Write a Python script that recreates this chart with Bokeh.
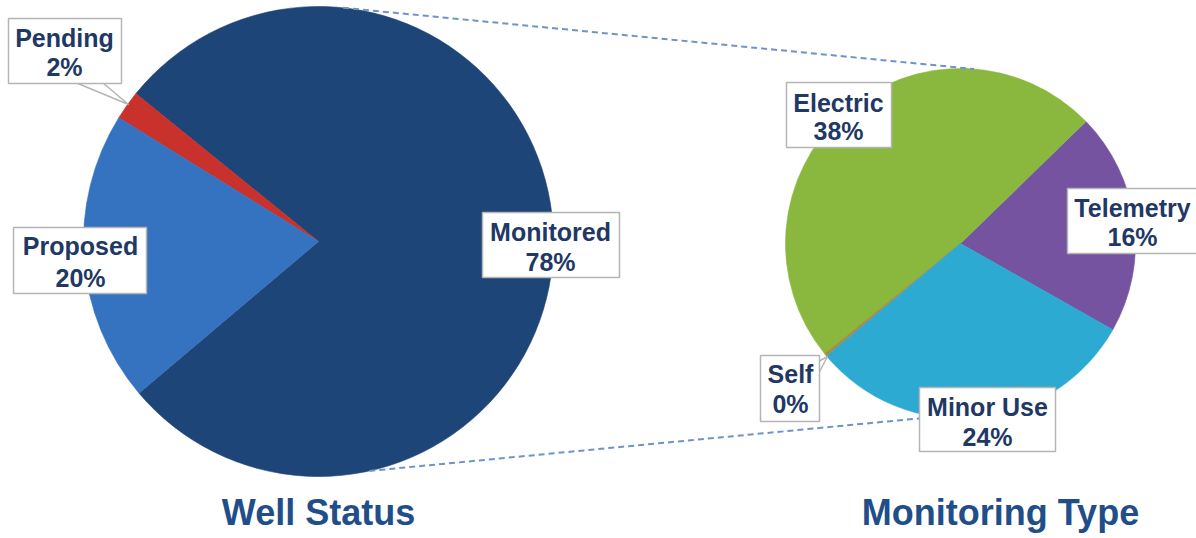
import numpy as np
from bokeh.plotting import figure
from bokeh.models import Range1d
from bokeh.core.properties import value
from bokeh.embed import file_html
from bokeh.resources import INLINE

# ---- data ----
status_labels = ["Monitored", "Pending", "Proposed"]
status_values = [78, 2, 20]
status_colors = ["#1e4577", "#c9312d", "#3572c0"]

type_labels = ["Telemetry", "Electric", "Self", "Minor Use"]
type_values = [16, 38, 0.2, 24]
type_colors = ["#7653a0", "#8ab83f", "#b08a3a", "#2daad2"]

W, H = 1196, 538
def Y(ry):  # reference pixel row -> data y
    return H - ry

p = figure(width=W, height=H, x_range=Range1d(0, W), y_range=Range1d(0, H),
           x_axis_type=None, y_axis_type=None, toolbar_location=None,
           output_backend="svg", min_border=0)
p.grid.visible = False
p.outline_line_color = None
p.background_fill_color = "white"
p.border_fill_color = "white"

def pie(cx, cy, r, vals, colors, start_deg):
    vals = np.array(vals, dtype=float)
    ang = vals / vals.sum() * 2 * np.pi
    ends = np.radians(start_deg) + np.cumsum(ang)
    starts = ends - ang
    p.wedge(x=[cx] * len(vals), y=[cy] * len(vals), radius=r,
            start_angle=list(starts), end_angle=list(ends),
            fill_color=colors, line_color=colors, line_width=0.6)

L_CX, L_CY, L_R = 318, Y(241), 235
R_CX, R_CY, R_R = 960, Y(243), 175
pie(L_CX, L_CY, L_R, status_values, status_colors, 220.2)
pie(R_CX, R_CY, R_R, type_values, type_colors, -29.5)

# connector dashed lines
def edge(cx, cy, r, deg):
    a = np.radians(deg)
    return cx + r * np.cos(a), cy + r * np.sin(a)

for a1, a2 in [(84.0, 85.5), (-77.5, -98.0)]:
    x1, y1 = edge(L_CX, L_CY, L_R, a1)
    x2, y2 = edge(R_CX, R_CY, R_R, a2)
    p.line([x1, x2], [y1, y2], line_color="#6f93c8", line_width=2, line_dash="6 4")

# callout pointers
p.patch([75, 102, 128], [Y(82), Y(82), Y(104)], fill_color="white",
        line_color="#b5b5b5", line_width=1.5)
p.patch([818, 818, 827], [Y(361), Y(373), Y(356)], fill_color="white",
        line_color="#b5b5b5", line_width=1.5)

# label boxes: (left, top, right, bottom, cx, line1_y, line2_y)
all_labels = status_labels + type_labels
all_values = status_values + type_values
boxes = {
    "Monitored": (482, 212, 619, 277, 550, 231, 261),
    "Pending":   (8, 18, 121, 83, 64, 37, 66),
    "Proposed":  (13, 227, 146, 293, 80, 245, 277),
    "Telemetry": (1067, 188, 1200, 253, 1132, 207, 236),
    "Electric":  (786, 82, 891, 147, 838, 102, 130),
    "Self":      (760, 355, 819, 421, 790, 373, 403),
    "Minor Use": (919, 387, 1055, 451, 987, 406, 436),
}
lefts, rights, tops, bottoms = [], [], [], []
tx, ty, tt = [], [], []
for lab, v in zip(all_labels, all_values):
    l, t, r, b, cx, y1, y2 = boxes[lab]
    lefts.append(l); rights.append(r); tops.append(Y(t)); bottoms.append(Y(b))
    tx += [cx, cx]; ty += [Y(y1), Y(y2)]; tt += [lab, f"{round(v)}%"]

p.quad(left=lefts, right=rights, top=tops, bottom=bottoms, fill_color="white",
       line_color="#b5b5b5", line_width=1.5)
p.text(x=tx, y=ty, text=tt, text_align="center", text_baseline="middle",
       text_font=value("Liberation Sans"), text_font_style="bold",
       text_font_size="25px", text_color="#1f3864")

# titles
titles = ["Well Status", "Monitoring Type"]
p.text(x=[L_CX, 1000], y=[Y(512), Y(512)], text=titles, text_align="center",
       text_baseline="middle", text_font=value("Liberation Sans"),
       text_font_style="bold", text_font_size="36px", text_color="#1f4e89")

open("out.html", "w").write(file_html(p, INLINE))
